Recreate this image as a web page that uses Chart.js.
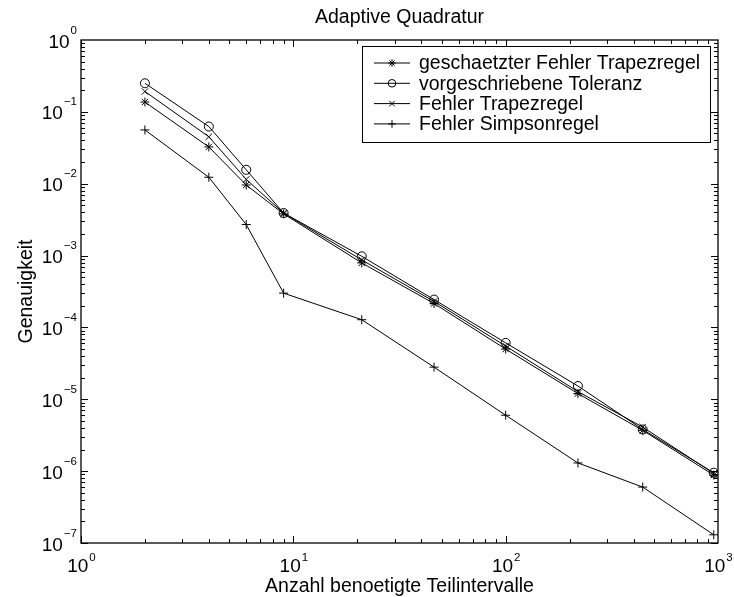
<!DOCTYPE html>
<html>
<head>
<meta charset="utf-8">
<title>Adaptive Quadratur</title>
<script src="https://cdn.jsdelivr.net/npm/chart.js@4/dist/chart.umd.min.js"></script>
<style>
  html, body { margin: 0; padding: 0; background: #fff; }
  #wrap { width: 734px; height: 597px; }
</style>
</head>
<body>
<div id="wrap"><canvas id="chart" width="734" height="597"></canvas></div>
<script>
// Anzahl benoetigte Teilintervalle (x)
const intervals = [2, 4, 6, 9, 21, 46, 100, 219, 442, 955];

// Genauigkeit (y), eine Liste je Kurve
const estTrapez = [0.137, 0.0325, 0.0096, 0.0038, 7.9e-4, 2.15e-4, 5.0e-5, 1.2e-5, 3.7e-6, 8.8e-7];
const tolerance = [0.25, 0.0625, 0.015625, 0.00390625, 9.77e-4, 2.44e-4, 6.1e-5, 1.53e-5, 3.8e-6, 9.5e-7];
const errTrapez = [0.192, 0.045, 0.0115, 0.0039, 8.7e-4, 2.3e-4, 5.5e-5, 1.28e-5, 4.1e-6, 9.3e-7];
const errSimpson = [0.056, 0.0123, 0.0027, 3.0e-4, 1.28e-4, 2.8e-5, 6.0e-6, 1.3e-6, 6.0e-7, 1.3e-7];

const seriesLabels = [
  'geschaetzter Fehler Trapezregel',
  'vorgeschriebene Toleranz',
  'Fehler Trapezregel',
  'Fehler Simpsonregel'
];

// Exponenten der Achsenbeschriftung (10^n)
const xExponents = [0, 1, 2, 3];
const yExponents = [0, -1, -2, -3, -4, -5, -6, -7];

const titleText  = 'Adaptive Quadratur';
const xAxisTitle = 'Anzahl benoetigte Teilintervalle';
const yAxisTitle = 'Genauigkeit';

(function () {

  const FONT = '"Liberation Sans", Arial, Helvetica, sans-serif';

  const toPoints = (ys) => intervals.map((x, i) => ({ x: x, y: ys[i] }));

  const makeSet = (label, ys, style) => ({
    label               : label,
    data                : toPoints(ys),
    borderColor         : '#000',
    borderWidth         : 1,
    tension             : 0,
    fill                : false,
    pointStyle          : style,
    pointRadius         : 4.5,
    pointBorderWidth    : 1,
    pointBorderColor    : '#000',
    pointBackgroundColor: 'rgba(0,0,0,0)'
  });

  // "10" plus hochgestellter Exponent
  const drawPow = (ctx, exp, px, py, mode) => {
    const base = '10';
    const sup  = String(exp).replace('-', '\u2212');
    ctx.font = '19px ' + FONT;
    const wb = ctx.measureText(base).width;
    ctx.font = '11.5px ' + FONT;
    const ws = ctx.measureText(sup).width;
    let left, baseY, raise;
    if ( mode === 'x' ) {
      left  = px - (wb + ws) / 2;
      baseY = py;
      raise = 11;
    } else {
      left  = px - (wb + ws + 1);
      baseY = py + 7.5;
      raise = 14;
    }
    ctx.textAlign    = 'left';
    ctx.textBaseline = 'alphabetic';
    ctx.font = '19px ' + FONT;
    ctx.fillText(base, left, baseY);
    ctx.font = '11.5px ' + FONT;
    ctx.fillText(sup, left + wb + 1, baseY - raise);
  };

  const frame = {
    id: 'frame',
    afterDraw(chart) {
      const { ctx, chartArea: a, scales } = chart;
      const sx = scales.x;
      const sy = scales.y;
      ctx.save();
      ctx.strokeStyle = '#000';
      ctx.fillStyle   = '#000';
      ctx.lineWidth   = 1.3;
      ctx.strokeRect(a.left, a.top, a.right - a.left, a.bottom - a.top);

      const tick = (x1, y1, x2, y2) => {
        ctx.beginPath();
        ctx.moveTo(x1, y1);
        ctx.lineTo(x2, y2);
        ctx.stroke();
      };

      ctx.lineWidth = 1;
      // Striche x-Achse (unten und oben, nach innen)
      for ( let e = 0; e < 3; e++ ) {
        for ( let m = 1; m < 10; m++ ) {
          const px  = Math.round(sx.getPixelForValue(m * Math.pow(10, e))) + 0.5;
          const len = m === 1 ? 7 : 4;
          tick(px, a.bottom, px, a.bottom - len);
          tick(px, a.top, px, a.top + len);
        }
      }
      // Striche y-Achse (links und rechts)
      for ( let e = -7; e < 0; e++ ) {
        for ( let m = 1; m < 10; m++ ) {
          const py  = Math.round(sy.getPixelForValue(m * Math.pow(10, e))) + 0.5;
          const len = m === 1 ? 7 : 4;
          tick(a.left, py, a.left + len, py);
          tick(a.right, py, a.right - len, py);
        }
      }

      // Beschriftungen
      xExponents.forEach((e) => drawPow(ctx, e, sx.getPixelForValue(Math.pow(10, e)), 572, 'x'));
      yExponents.forEach((e) => drawPow(ctx, e, 77, sy.getPixelForValue(Math.pow(10, e)), 'y'));

      ctx.font = '19.5px ' + FONT;
      ctx.textAlign = 'center';
      const cx = (a.left + a.right) / 2;
      ctx.fillText(titleText, cx, 23);
      ctx.fillText(xAxisTitle, cx, 592);

      ctx.save();
      ctx.translate(32, (a.top + a.bottom) / 2);
      ctx.rotate(-Math.PI / 2);
      ctx.fillText(yAxisTitle, 0, 0);
      ctx.restore();

      // Legende
      const box = { left: 362.5, top: 46.5, right: 710.5, bottom: 142.5 };
      ctx.fillStyle = '#fff';
      ctx.fillRect(box.left, box.top, box.right - box.left, box.bottom - box.top);
      ctx.strokeStyle = '#000';
      ctx.lineWidth = 1;
      ctx.strokeRect(box.left, box.top, box.right - box.left, box.bottom - box.top);

      chart.data.datasets.forEach((ds, i) => {
        const ry = 63 + i * 20.3;
        ctx.strokeStyle = '#000';
        ctx.lineWidth = 1;
        tick(374, ry, 410, ry);
        ctx.fillStyle = 'rgba(0,0,0,0)';
        Chart.helpers.drawPoint(ctx, {
          pointStyle : ds.pointStyle,
          radius     : 3.8,
          borderWidth: 1,
          rotation   : 0
        }, 392, ry);
        ctx.fillStyle    = '#000';
        ctx.font         = '19.5px ' + FONT;
        ctx.textAlign    = 'left';
        ctx.textBaseline = 'middle';
        ctx.fillText(ds.label, 419, ry + 1);
        ctx.textBaseline = 'alphabetic';
      });

      ctx.restore();
    }
  };

  new Chart(document.getElementById('chart'), {
    type: 'line',
    data: {
      datasets: [
        makeSet(seriesLabels[0], estTrapez, 'star'),
        makeSet(seriesLabels[1], tolerance, 'circle'),
        makeSet(seriesLabels[2], errTrapez, 'crossRot'),
        makeSet(seriesLabels[3], errSimpson, 'cross')
      ]
    },
    options: {
      responsive: false,
      animation : false,
      events    : [],
      layout    : { padding: { left: 81, top: 40, right: 16, bottom: 54 } },
      plugins   : {
        legend : { display: false },
        title  : { display: false },
        tooltip: { enabled: false }
      },
      scales: {
        x: {
          type    : 'logarithmic',
          min     : 1,
          max     : 1000,
          ticks   : { display: false },
          grid    : { display: false, drawTicks: false },
          border  : { display: false },
          afterFit: (s) => { s.height = 0; }
        },
        y: {
          type    : 'logarithmic',
          min     : 1e-7,
          max     : 1,
          ticks   : { display: false },
          grid    : { display: false, drawTicks: false },
          border  : { display: false },
          afterFit: (s) => { s.width = 0; }
        }
      }
    },
    plugins: [frame]
  });

})();
</script>
</body>
</html>
